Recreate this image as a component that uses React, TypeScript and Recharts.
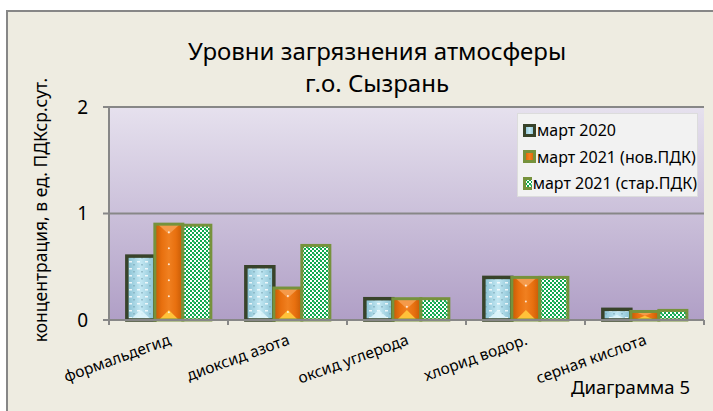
import React from "react";
import {
  BarChart,
  Bar,
  XAxis,
  YAxis,
  CartesianGrid,
  Legend,
} from "recharts";

// данные диаграммы
const categories = [
  "формальдегид",
  "диоксид азота",
  "оксид углерода",
  "хлорид водор.",
  "серная кислота",
];
const march2020 = [0.6, 0.5, 0.2, 0.4, 0.1];
const march2021New = [0.9, 0.3, 0.2, 0.4, 0.08];
const march2021Old = [0.89, 0.7, 0.2, 0.4, 0.09];
const yTicks = [0, 1, 2];
const seriesNames = ["март 2020", "март 2021 (нов.ПДК)", "март 2021 (стар.ПДК)"];

const data = categories.map((name, i) => ({
  name,
  m2020: march2020[i],
  m2021n: march2021New[i],
  m2021o: march2021Old[i],
}));

const W = 713;
const H = 411;
const PLOT_LEFT = 109;
const PLOT_RIGHT = 704;
const FONT = "'Noto Sans', 'Open Sans', sans-serif";
const AXIS_GRAY = "#878787";

const BlueBar = (props: any) => {
  const { x, y, width, height } = props;
  if (!height || height <= 0) return null;
  return (
    <g>
      <rect x={x} y={y} width={width} height={height} fill="url(#blueBase)" />
      <rect x={x} y={y} width={width} height={height} fill="url(#bluePat)" />
      <polygon
        points={`${x + 3},${y + height} ${x + width / 2},${y + height - Math.min(10, height / 2)} ${x + width - 3},${y + height}`}
        fill="#dff6fb"
        opacity={0.85}
      />
      <rect x={x} y={y} width={width} height={height} fill="none" stroke="#38432a" strokeWidth={3.5} />
    </g>
  );
};

const OrangeBar = (props: any) => {
  const { x, y, width, height } = props;
  if (!height || height <= 0) return null;
  const tri = Math.min(10, height / 2);
  const dots = [];
  for (let yy = y + 8; yy < y + height - 6; yy += 16) {
    dots.push(<circle key={yy} cx={x + width / 2} cy={yy} r={1} fill="#fff" opacity={0.8} />);
  }
  return (
    <g>
      <rect x={x} y={y} width={width} height={height} fill="url(#orangeBase)" />
      <polygon
        points={`${x + 3},${y} ${x + width / 2},${y + tri} ${x + width - 3},${y}`}
        fill="#f59a4a"
      />
      <polygon
        points={`${x + 4},${y + height} ${x + width / 2},${y + height - tri} ${x + width - 4},${y + height}`}
        fill="#ffc23a"
      />
      {dots}
      <rect x={x} y={y} width={width} height={height} fill="none" stroke="#76923c" strokeWidth={3} />
    </g>
  );
};

const GreenBar = (props: any) => {
  const { x, y, width, height } = props;
  if (!height || height <= 0) return null;
  return (
    <g>
      <rect x={x} y={y} width={width} height={height} fill="url(#greenPat)" />
      <rect x={x} y={y} width={width} height={height} fill="none" stroke="#76923c" strokeWidth={3} />
    </g>
  );
};

const CategoryTick = (props: any) => {
  const { x, y, payload, index } = props;
  const band = (PLOT_RIGHT - PLOT_LEFT) / categories.length;
  return (
    <g>
      {index === 0 && (
        <line x1={x - band / 2} y1={y} x2={x - band / 2} y2={y + 5} stroke={AXIS_GRAY} strokeWidth={2} />
      )}
      <line x1={x + band / 2} y1={y} x2={x + band / 2} y2={y + 5} stroke={AXIS_GRAY} strokeWidth={2} />
      <text
        transform={`translate(${x + 3},${y + 24}) rotate(-20)`}
        textAnchor="end"
        fontSize={15.5}
        fontFamily={FONT}
        fill="#000"
      >
        {payload.value}
      </text>
    </g>
  );
};

const legendFills = ["url(#blueBase)", "url(#orangeBase)", "url(#greenPat)"];
const legendStrokes = ["#38432a", "#76923c", "#76923c"];

const LegendBox = () => (
  <div
    style={{
      width: 181,
      height: 84,
      background: "#f2f2f2",
      border: "1px solid #dcdcdc",
      boxSizing: "border-box",
      paddingTop: 3,
      fontFamily: FONT,
    }}
  >
    {seriesNames.map((s, i) => (
      <div key={s} style={{ display: "flex", alignItems: "center", height: 26.5 }}>
        <svg width={13} height={13} style={{ marginLeft: 5, marginRight: 1 }}>
          <rect x={1.5} y={1.5} width={10} height={10} fill={legendFills[i]} stroke={legendStrokes[i]} strokeWidth={3} />
        </svg>
        <span style={{ fontSize: 16, color: "#000", whiteSpace: "nowrap" }}>{s}</span>
      </div>
    ))}
  </div>
);

export default function App() {
  return (
    <div
      style={{
        position: "absolute",
        left: 0,
        top: 0,
        width: W,
        height: H,
        overflow: "hidden",
        background: "#fff",
        fontFamily: FONT,
      }}
    >
      <div
        style={{
          position: "absolute",
          left: 6,
          top: 10,
          width: 730,
          height: 430,
          background: "#eeece1",
          border: `2px solid ${AXIS_GRAY}`,
        }}
      />
      <div
        style={{
          position: "absolute",
          left: 0,
          width: 754,
          top: 35,
          textAlign: "center",
          fontSize: 24,
          lineHeight: "32px",
          color: "#000",
        }}
      >
        Уровни загрязнения атмосферы
        <br />
        г.о. Сызрань
      </div>
      <div
        style={{
          position: "absolute",
          left: 40,
          top: 210,
          transform: "translate(-50%, -50%) rotate(-90deg)",
          whiteSpace: "nowrap",
          fontSize: 17.5,
          color: "#000",
        }}
      >
        концентрация, в ед. ПДКср.сут.
      </div>
      <div
        style={{
          position: "absolute",
          left: 571,
          top: 374,
          fontSize: 18.5,
          color: "#000",
          whiteSpace: "nowrap",
        }}
      >
        Диаграмма 5
      </div>
      <div style={{ position: "absolute", left: 0, top: 0 }}>
        <BarChart
          width={W}
          height={H}
          data={data}
          margin={{ top: 107, right: 9, bottom: 31, left: 79 }}
          barCategoryGap="15%"
          barGap={0}
        >
          <defs>
            <linearGradient id="plotBg" x1="0" y1="0" x2="0" y2="1">
              <stop offset="0%" stopColor="#e6e1ee" />
              <stop offset="100%" stopColor="#b09fc6" />
            </linearGradient>
            <linearGradient id="blueBase" x1="0" y1="0" x2="1" y2="0">
              <stop offset="0%" stopColor="#86bfd2" />
              <stop offset="50%" stopColor="#c3e8f3" />
              <stop offset="100%" stopColor="#86bfd2" />
            </linearGradient>
            <pattern id="bluePat" width="8" height="7" patternUnits="userSpaceOnUse">
              <rect x="1" y="2" width="3" height="1.5" fill="#ffffff" opacity="0.8" />
              <rect x="5" y="5" width="2" height="1.5" fill="#7aa6b6" opacity="0.6" />
            </pattern>
            <linearGradient id="orangeBase" x1="0" y1="0" x2="1" y2="0">
              <stop offset="0%" stopColor="#c55a05" />
              <stop offset="25%" stopColor="#e8700f" />
              <stop offset="50%" stopColor="#f08020" />
              <stop offset="75%" stopColor="#e8700f" />
              <stop offset="100%" stopColor="#c55a05" />
            </linearGradient>
            <pattern id="greenPat" width="12" height="12" patternUnits="userSpaceOnUse">
              <rect width="12" height="12" fill="#ffffff" />
              <rect x="0" y="0" width="2" height="2" fill="#0fa84e" />
              <rect x="2" y="2" width="2" height="2" fill="#0fa84e" />
              <rect x="4" y="0" width="2" height="2" fill="#0fa84e" />
              <rect x="6" y="2" width="2" height="2" fill="#0fa84e" />
              <rect x="8" y="0" width="2" height="2" fill="#0fa84e" />
              <rect x="10" y="2" width="2" height="2" fill="#0fa84e" />
              <rect x="0" y="4" width="2" height="2" fill="#0fa84e" />
              <rect x="2" y="6" width="2" height="2" fill="#0fa84e" />
              <rect x="4" y="4" width="2" height="2" fill="#0fa84e" />
              <rect x="6" y="6" width="2" height="2" fill="#0fa84e" />
              <rect x="8" y="4" width="2" height="2" fill="#0fa84e" />
              <rect x="10" y="6" width="2" height="2" fill="#0fa84e" />
              <rect x="0" y="8" width="2" height="2" fill="#0fa84e" />
              <rect x="2" y="10" width="2" height="2" fill="#0fa84e" />
              <rect x="4" y="8" width="2" height="2" fill="#0fa84e" />
              <rect x="6" y="10" width="2" height="2" fill="#0fa84e" />
              <rect x="8" y="8" width="2" height="2" fill="#0fa84e" />
              <rect x="10" y="10" width="2" height="2" fill="#0fa84e" />
              <rect x="1" y="1" width="2" height="2" fill="#20b860" opacity="0.6" />
              <rect x="7" y="7" width="2" height="2" fill="#20b860" opacity="0.6" />
            </pattern>
          </defs>
          <CartesianGrid
            vertical={false}
            stroke={AXIS_GRAY}
            strokeWidth={2}
            fill="url(#plotBg)"
            fillOpacity={1}
          />
          <XAxis
            dataKey="name"
            height={60}
            interval={0}
            tickLine={false}
            tickSize={0}
            tickMargin={0}
            axisLine={{ stroke: AXIS_GRAY, strokeWidth: 2 }}
            tick={<CategoryTick />}
          />
          <YAxis
            width={30}
            domain={[0, 2]}
            ticks={yTicks}
            interval={0}
            tickSize={6}
            tickMargin={15}
            axisLine={{ stroke: AXIS_GRAY, strokeWidth: 2 }}
            tickLine={{ stroke: AXIS_GRAY, strokeWidth: 2 }}
            tick={{ fontSize: 19, fill: "#000", fontFamily: FONT }}
          />
          <Legend
            layout="vertical"
            align="center"
            verticalAlign="middle"
            content={<LegendBox />}
            wrapperStyle={{ left: 517, top: 113, width: 181, height: 84 }}
          />
          <Bar dataKey="m2020" name={seriesNames[0]} shape={<BlueBar />} isAnimationActive={false} />
          <Bar dataKey="m2021n" name={seriesNames[1]} shape={<OrangeBar />} isAnimationActive={false} />
          <Bar dataKey="m2021o" name={seriesNames[2]} shape={<GreenBar />} isAnimationActive={false} />
        </BarChart>
      </div>
    </div>
  );
}
